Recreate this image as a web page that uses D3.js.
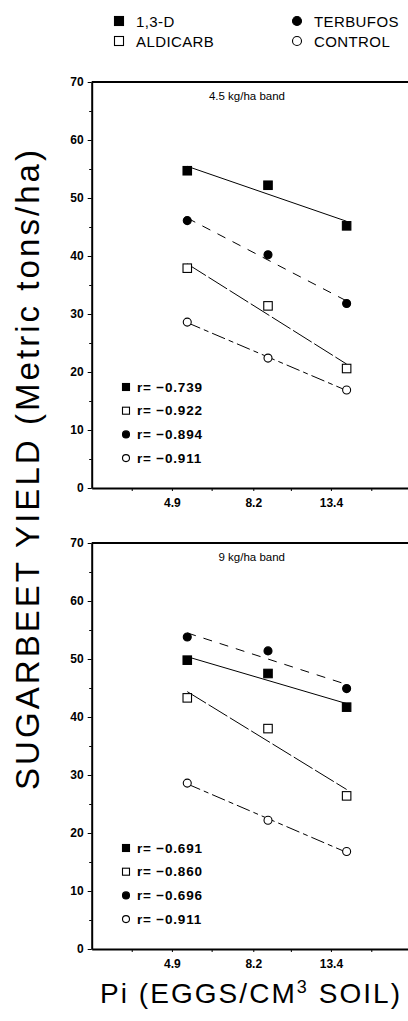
<html>
<script src="https://d3js.org/d3.v7.min.js"></script>
<style>
    body { margin: 0; background: #fff; overflow: hidden; }
    svg { display: block; overflow: hidden; }
    text { font-family: "Liberation Sans", Arial, sans-serif; fill: #000; }
    .tick text { font-size: 12px; font-weight: bold; }
    .domain { stroke-width: 2px; }
</style>
<body>
<svg id="chart"></svg>
<script>
    // series names, in legend order
    var series = ["1,3-D", "ALDICARB", "TERBUFOS", "CONTROL"];

    // Pi (eggs / cm3 soil) where the points sit
    var piValues = [5.4, 9.0, 14.8];
    var xLabels = [4.9, 8.2, 13.4];
    var xTicks = [3.8, 4.9, 6.3, 8.2, 10.4, 13.4, 17.3];
    var yMajor = [0, 10, 20, 30, 40, 50, 60, 70];
    var yMinor = [5, 15, 25, 35, 45, 55, 65];

    // 4.5 kg/ha band
    var d13Top = [54.7, 52.2, 45.2];
    var aldTop = [37.9, 31.4, 20.6];
    var terTop = [46.1, 40.2, 31.8];
    var conTop = [28.6, 22.4, 16.9];
    var rTop = ["\u22120.739", "\u22120.922", "\u22120.894", "\u22120.911"];

    // 9 kg/ha band
    var d13Bot = [49.8, 47.5, 41.7];
    var aldBot = [43.3, 38.0, 26.4];
    var terBot = [53.8, 51.4, 44.9];
    var conBot = [28.6, 22.2, 16.8];
    var rBot = ["\u22120.691", "\u22120.860", "\u22120.696", "\u22120.911"];

    var W = 408, H = 1021;
    var svg = d3.select("#chart").attr("width", W).attr("height", H);

    var styles = {
        "1,3-D":    { shape: "square", fill: "#000", dash: null },
        "ALDICARB": { shape: "square", fill: "#fff", dash: "22,3" },
        "TERBUFOS": { shape: "circle", fill: "#000", dash: "9,8" },
        "CONTROL":  { shape: "circle", fill: "#fff", dash: "14,4,5,4" }
    };

    function marker(g, name, cx, cy, size) {
        var s = styles[name];
        if (s.shape == "square") {
            g.append("rect")
                .attr("x", cx - size / 2).attr("y", cy - size / 2)
                .attr("width", size).attr("height", size)
                .attr("fill", s.fill).attr("stroke", "#000").attr("stroke-width", 1.1);
        } else {
            g.append("circle")
                .attr("cx", cx).attr("cy", cy).attr("r", size / 2)
                .attr("fill", s.fill).attr("stroke", "#000").attr("stroke-width", 1.1);
        }
    }

    // top legend
    var legend = svg.append("g");
    series.forEach(function (name, i) {
        var col = styles[name].shape == "square" ? 0 : 1;
        var row = (name == "1,3-D" || name == "TERBUFOS") ? 0 : 1;
        var lx = col == 0 ? 119 : 297;
        var ly = row == 0 ? 21 : 41;
        marker(legend, name, lx, ly, 9);
        legend.append("text")
            .attr("x", lx + 17).attr("y", ly + 5.5)
            .style("font-size", "15px").style("letter-spacing", "0.4px")
            .text(name);
    });

    var x = d3.scaleLog().domain([2.95, 22.1]).range([91.7, 410]);

    // least squares on log(Pi)
    function fit(vals) {
        var lx = piValues.map(function (p) { return Math.log(p); });
        var mx = d3.mean(lx), my = d3.mean(vals);
        var num = d3.sum(lx, function (v, i) { return (v - mx) * (vals[i] - my); });
        var den = d3.sum(lx, function (v) { return (v - mx) * (v - mx); });
        var b = num / den, a = my - b * mx;
        return [piValues[0], piValues[piValues.length - 1]].map(function (p) {
            return { p: p, v: a + b * Math.log(p) };
        });
    }

    function drawPanel(top, title, values, rVals) {
        var y = d3.scaleLinear().domain([0, 70]).range([top + 406, top]);
        var g = svg.append("g");

        // frame: top line, runs off the right edge
        g.append("line")
            .attr("x1", x.range()[0]).attr("x2", W)
            .attr("y1", y(70)).attr("y2", y(70))
            .attr("stroke", "#000").attr("stroke-width", 2);

        var minor = g.append("g")
            .attr("transform", "translate(" + x.range()[0] + ",0)")
            .call(d3.axisLeft(y).tickValues(yMinor).tickSize(2.5).tickFormat(""));
        minor.select(".domain").remove();
        g.append("g")
            .attr("transform", "translate(" + x.range()[0] + ",0)")
            .call(d3.axisLeft(y).tickValues(yMajor).tickSize(4).tickPadding(4).tickSizeOuter(0));

        g.append("g")
            .attr("transform", "translate(0," + y(0) + ")")
            .call(d3.axisBottom(x).tickValues(xTicks).tickSize(3).tickPadding(7).tickSizeOuter(0)
                .tickFormat(function (d) { return xLabels.indexOf(d) >= 0 ? d3.format(".1f")(d) : ""; }));

        g.append("text")
            .attr("x", 285).attr("y", top + 18)
            .attr("text-anchor", "end")
            .style("font-size", "11.5px")
            .text(title);

        var line = d3.line()
            .x(function (d) { return x(d.p); })
            .y(function (d) { return y(d.v); });

        series.forEach(function (name, i) {
            g.append("path")
                .datum(fit(values[i]))
                .attr("d", line)
                .attr("fill", "none")
                .attr("stroke", "#000")
                .attr("stroke-width", 1)
                .attr("stroke-dasharray", styles[name].dash);
        });
        series.forEach(function (name, i) {
            values[i].forEach(function (v, j) {
                marker(g, name, x(piValues[j]), y(v), styles[name].shape == "square" ? 8.5 : 8);
            });
        });

        // r legend
        series.forEach(function (name, i) {
            var ry = top + 305 + i * 23.7;
            marker(g, name, 126, ry, 7);
            g.append("text")
                .attr("x", 137).attr("y", ry + 4.5)
                .style("font-size", "13.5px").style("font-weight", "bold")
                .style("letter-spacing", "0.8px")
                .text("r= " + rVals[i]);
        });
    }

    drawPanel(82, "4.5 kg/ha band", [d13Top, aldTop, terTop, conTop], rTop);
    drawPanel(543, "9 kg/ha band", [d13Bot, aldBot, terBot, conBot], rBot);

    // axis titles
    svg.append("text")
        .attr("transform", "translate(39,470) rotate(-90)")
        .attr("text-anchor", "middle")
        .attr("textLength", 640)
        .attr("lengthAdjust", "spacing")
        .style("font-size", "33px")
        .text("SUGARBEET YIELD (Metric tons/ha)");

    var xt = svg.append("text")
        .attr("x", 250).attr("y", 1003)
        .attr("text-anchor", "middle")
        .attr("textLength", 300)
        .attr("lengthAdjust", "spacing")
        .style("font-size", "28px");
    xt.append("tspan").text("Pi (EGGS/CM");
    xt.append("tspan").attr("dy", -10).style("font-size", "18px").text("3");
    xt.append("tspan").attr("dy", 10).text(" SOIL)");
</script>
</body>
</html>
